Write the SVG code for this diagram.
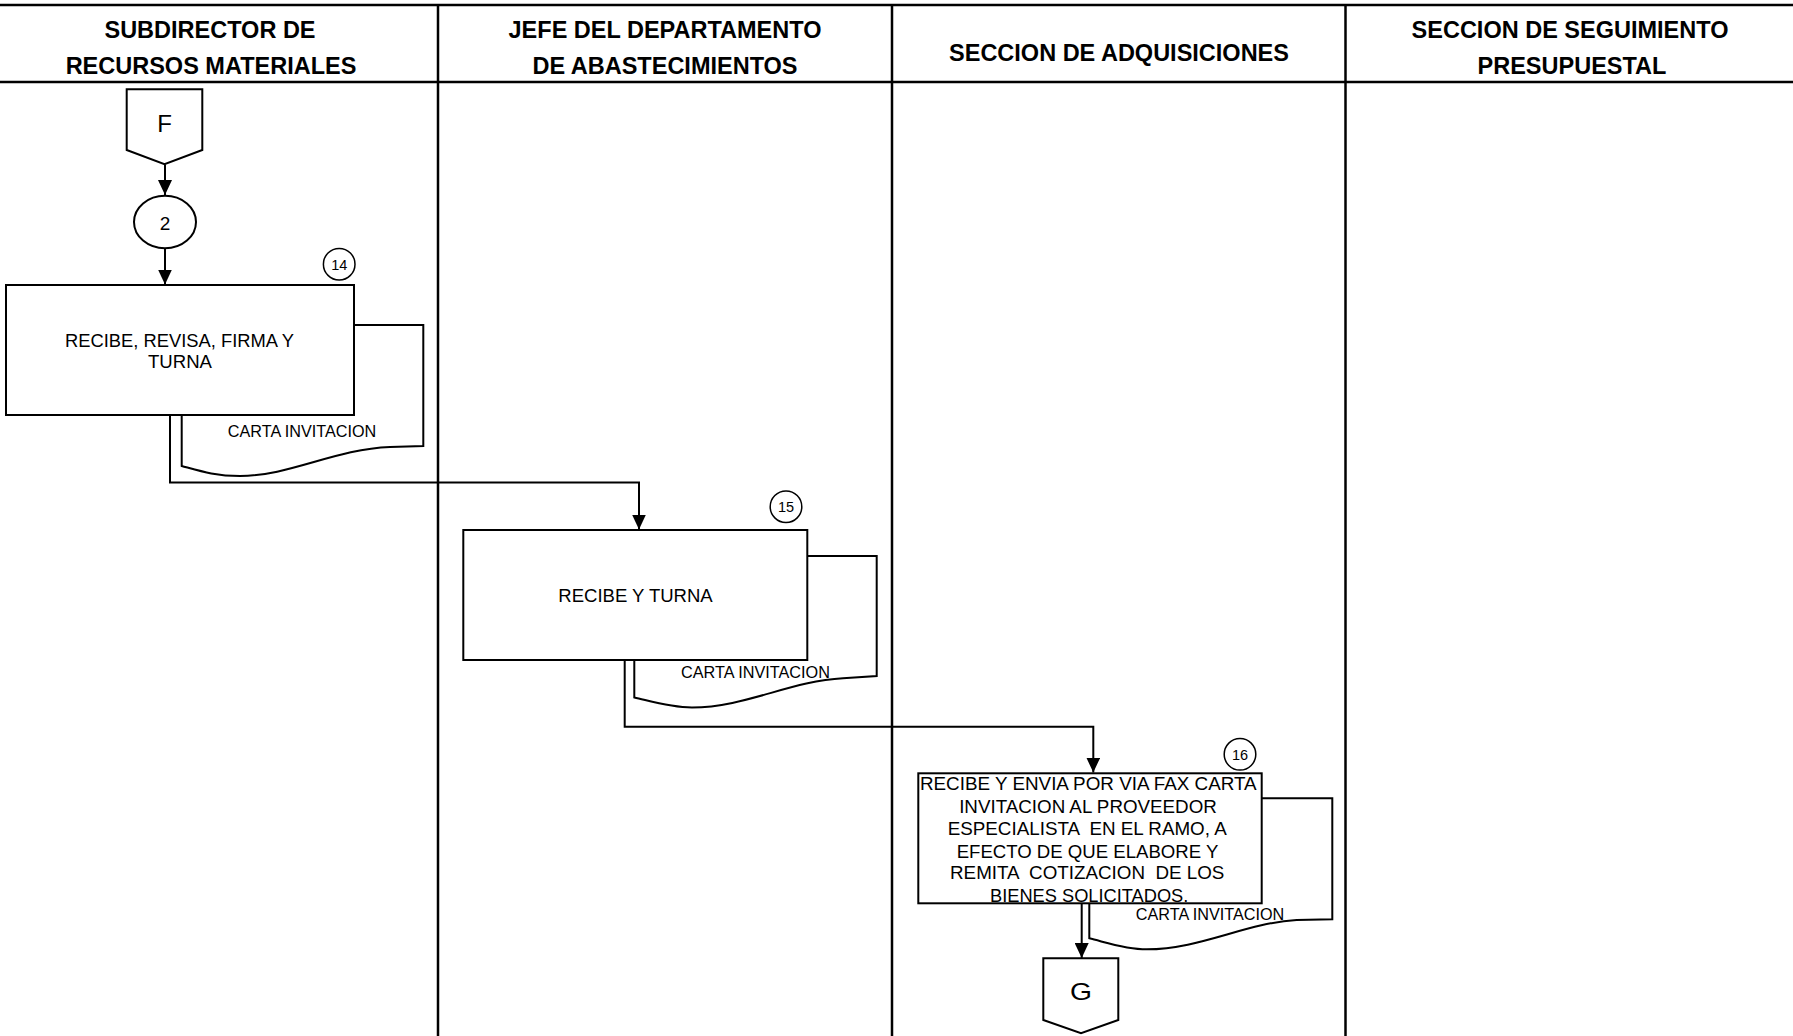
<svg xmlns="http://www.w3.org/2000/svg" width="1793" height="1036" viewBox="0 0 1793 1036">
  <style>
    text { font-family: "Liberation Sans", Arial, sans-serif; fill: #000; }
    .hdr { font-size: 23.5px; font-weight: bold; text-anchor: middle; }
    .body { font-size: 18px; text-anchor: middle; white-space: pre; }
    .doclbl { font-size: 15.8px; text-anchor: middle; }
    .num { font-size: 14.5px; text-anchor: middle; }
    .big { font-size: 24px; text-anchor: middle; }
    .lane { stroke: #000; stroke-width: 2.5; fill: none; }
    .shape { stroke: #000; stroke-width: 2; fill: #fff; }
    .badge { stroke: #000; stroke-width: 1.5; fill: #fff; }
    .conn { stroke: #000; stroke-width: 2; fill: none; marker-end: url(#arrow); }
  </style>
  <defs>
    <marker id="arrow" markerUnits="userSpaceOnUse" markerWidth="15" markerHeight="14" refX="15" refY="7" orient="auto">
      <path d="M0,0 L15,7 L0,14 Z" fill="#000"/>
    </marker>
  </defs>

  <rect width="1793" height="1036" fill="#fff"/>

  <!-- swimlane frame and headers -->
  <g id="lanes">
    <line class="lane" x1="0" y1="5" x2="1793" y2="5"/>
    <line class="lane" x1="0" y1="82" x2="1793" y2="82"/>
    <line class="lane" x1="438" y1="5" x2="438" y2="1036"/>
    <line class="lane" x1="892" y1="5" x2="892" y2="1036"/>
    <line class="lane" x1="1345.5" y1="5" x2="1345.5" y2="1036"/>
    <text class="hdr" x="210" y="38">SUBDIRECTOR DE</text>
    <text class="hdr" x="211" y="73.5">RECURSOS MATERIALES</text>
    <text class="hdr" x="665" y="38">JEFE DEL DEPARTAMENTO</text>
    <text class="hdr" x="665" y="73.5">DE ABASTECIMIENTOS</text>
    <text class="hdr" x="1119" y="61">SECCION DE ADQUISICIONES</text>
    <text class="hdr" x="1570" y="38">SECCION DE SEGUIMIENTO</text>
    <text class="hdr" x="1572" y="73.5">PRESUPUESTAL</text>
  </g>

  <!-- flow connectors -->
  <g id="connectors">
    <path class="conn" d="M165,164.5 V195"/>
    <path class="conn" d="M165,248.3 V284.5"/>
    <path class="conn" d="M170,415 V482.5 H639 V529.5"/>
    <path class="conn" d="M624.7,660 V726.7 H1093.3 V772.5"/>
    <path class="conn" d="M1081.7,903.3 V958"/>
  </g>

  <!-- off-page connector F -->
  <g id="node-F">
    <path class="shape" d="M126.7,89.3 H202.3 V150 L164.5,164.3 L126.7,150 Z"/>
    <text class="big" x="164.5" y="131.7">F</text>
  </g>

  <!-- on-page connector 2 -->
  <g id="node-2">
    <ellipse class="shape" cx="165" cy="222" rx="31" ry="26.3"/>
    <text class="big" x="165" y="229.5" style="font-size:19px">2</text>
  </g>

  <!-- step 14 -->
  <g id="step-14">
    <path class="shape" d="M181.7,325 H423.3 V446 L390,447 C335,449 290,476 240,476 C215,476 200,471 181.7,466 Z"/>
    <rect class="shape" x="6" y="285" width="348" height="130"/>
    <circle class="badge" cx="339.2" cy="264.2" r="15.8"/>
    <text class="num" x="339.2" y="269.5">14</text>
    <text class="body" x="179.5" y="346.7" textLength="229" lengthAdjust="spacingAndGlyphs">RECIBE, REVISA, FIRMA Y</text>
    <text class="body" x="180" y="368.3" textLength="64" lengthAdjust="spacingAndGlyphs">TURNA</text>
    <text class="doclbl" x="302" y="437.3" textLength="148.3" lengthAdjust="spacingAndGlyphs">CARTA INVITACION</text>
  </g>

  <!-- step 15 -->
  <g id="step-15">
    <path class="shape" d="M634.3,556 H876.7 V676 L843,678.3 C790,681 745,707.5 692,707.5 C670,707.5 650,701 634.3,697.5 Z"/>
    <rect class="shape" x="463.3" y="530" width="344" height="130"/>
    <circle class="badge" cx="786" cy="506.7" r="15.8"/>
    <text class="num" x="786" y="512">15</text>
    <text class="body" x="635.5" y="602.3" textLength="154.4" lengthAdjust="spacingAndGlyphs">RECIBE Y TURNA</text>
    <text class="doclbl" x="755.5" y="678.3" textLength="149" lengthAdjust="spacingAndGlyphs">CARTA INVITACION</text>
  </g>

  <!-- step 16 -->
  <g id="step-16">
    <path class="shape" d="M1089.3,798.3 H1332.3 V919.3 L1296.7,920 C1245,923 1200,949.3 1146.7,949.3 C1125,949.3 1105,942 1089.3,938.3 Z"/>
    <rect class="shape" x="918.3" y="773.3" width="343.4" height="130"/>
    <circle class="badge" cx="1240" cy="754.3" r="15.8"/>
    <text class="num" x="1240" y="759.6">16</text>
    <text class="body" x="1088.3" y="790" textLength="336.7" lengthAdjust="spacingAndGlyphs">RECIBE Y ENVIA POR VIA FAX CARTA</text>
    <text class="body" x="1088" y="812.7" textLength="257.7" lengthAdjust="spacingAndGlyphs">INVITACION AL PROVEEDOR</text>
    <text class="body" x="1087.2" y="835" textLength="279" lengthAdjust="spacingAndGlyphs">ESPECIALISTA  EN EL RAMO, A</text>
    <text class="body" x="1087.5" y="857.7" textLength="261.7" lengthAdjust="spacingAndGlyphs">EFECTO DE QUE ELABORE Y</text>
    <text class="body" x="1087.2" y="879.3" textLength="274.3" lengthAdjust="spacingAndGlyphs">REMITA  COTIZACION  DE LOS</text>
    <text class="body" x="1089.2" y="901.7" textLength="198.3" lengthAdjust="spacingAndGlyphs">BIENES SOLICITADOS.</text>
    <text class="doclbl" x="1210" y="920" textLength="148.3" lengthAdjust="spacingAndGlyphs">CARTA INVITACION</text>
  </g>

  <!-- off-page connector G -->
  <g id="node-G">
    <path class="shape" d="M1043.3,958.3 H1118.3 V1020 L1081,1033.3 L1043.3,1020 Z"/>
    <text class="big" x="1081" y="1000" textLength="22" lengthAdjust="spacingAndGlyphs">G</text>
  </g>
</svg>
